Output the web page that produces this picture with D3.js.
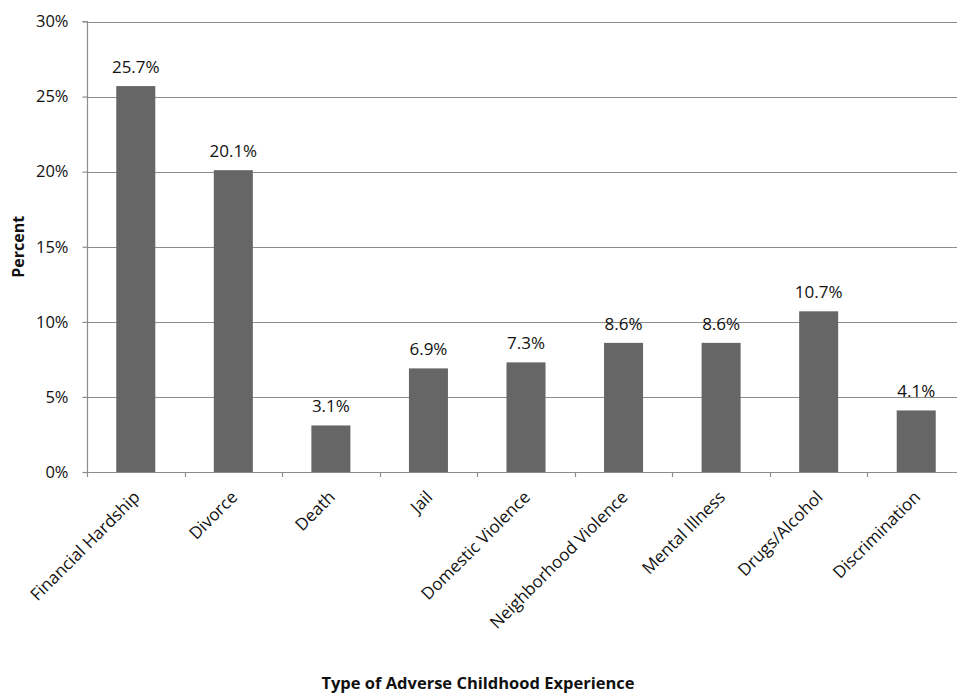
<!DOCTYPE html>
<html>
<head>
<meta charset="utf-8">
<script src="https://cdn.jsdelivr.net/npm/d3@7"></script>
<style>
  body { margin: 0; background: #fff; }
  svg { font-family: "Open Sans", "Liberation Sans", sans-serif; }
</style>
</head>
<body>
<div id="chart"></div>
<script>
const categories = ['Financial Hardship', 'Divorce', 'Death', 'Jail', 'Domestic Violence',
    'Neighborhood Violence', 'Mental Illness', 'Drugs/Alcohol', 'Discrimination'];
const percents = [25.7, 20.1, 3.1, 6.9, 7.3, 8.6, 8.6, 10.7, 4.1];
const yTicks = [0, 5, 10, 15, 20, 25, 30];

const width = 957, height = 696;
const margin = { left: 87, top: 21.5, bottom: 224 };
const plotRight = 965;

const svg = d3.select('#chart')
    .append('svg')
    .attr('width', width)
    .attr('height', height);

const x = d3.scaleBand()
    .domain(categories)
    .range([margin.left, plotRight])
    .paddingInner(0.6)
    .paddingOuter(0.3);

const y = d3.scaleLinear()
    .domain([0, 30])
    .range([height - margin.bottom, margin.top]);

// gridlines
svg.append('g')
    .selectAll('line')
    .data(yTicks.filter(d => d > 0))
    .enter()
    .append('line')
    .attr('x1', margin.left)
    .attr('x2', plotRight)
    .attr('y1', d => Math.round(y(d)) + 0.5)
    .attr('y2', d => Math.round(y(d)) + 0.5)
    .style('stroke', '#8c8c8c')
    .style('stroke-width', 1.2);

// bars
svg.append('g')
    .selectAll('rect')
    .data(categories)
    .enter()
    .append('rect')
    .attr('x', d => x(d))
    .attr('width', x.bandwidth())
    .attr('y', (d, i) => y(percents[i]))
    .attr('height', (d, i) => y(0) - y(percents[i]))
    .style('fill', '#666666');

// value labels
svg.append('g')
    .selectAll('text')
    .data(categories)
    .enter()
    .append('text')
    .attr('x', d => x(d) + x.bandwidth() / 2)
    .attr('y', (d, i) => y(percents[i]) - 13)
    .attr('text-anchor', 'middle')
    .style('font-size', '17px')
    .style('fill', '#111')
    .text((d, i) => percents[i].toFixed(1) + '%');

// y axis
const yAxis = d3.axisLeft(y)
    .tickValues(yTicks)
    .tickSize(5)
    .tickPadding(14)
    .tickFormat(d => d + '%');

const yG = svg.append('g')
    .attr('transform', `translate(${margin.left + 0.5},0)`)
    .call(yAxis);
yG.selectAll('line, path').style('stroke', '#8c8c8c').style('stroke-width', 1.2);
yG.select('.domain').attr('d', `M-5,${y(30)}H0V${y(0)}`);
yG.selectAll('text').style('font-size', '16.5px').style('fill', '#111')
    .style('font-family', '"Open Sans", sans-serif');

// x axis: ticks at band boundaries
const step = x.step();
const boundaries = d3.range(0, categories.length + 1).map(i => margin.left + i * step);
svg.append('line')
    .attr('x1', margin.left)
    .attr('x2', plotRight)
    .attr('y1', y(0) + 0.5)
    .attr('y2', y(0) + 0.5)
    .style('stroke', '#8c8c8c')
    .style('stroke-width', 1.2);
svg.append('g')
    .selectAll('line')
    .data(boundaries)
    .enter()
    .append('line')
    .attr('x1', d => Math.round(d) + 0.5)
    .attr('x2', d => Math.round(d) + 0.5)
    .attr('y1', y(0))
    .attr('y2', y(0) + 5)
    .style('stroke', '#8c8c8c')
    .style('stroke-width', 1.2);

// category labels
svg.append('g')
    .selectAll('text')
    .data(categories)
    .enter()
    .append('text')
    .attr('transform', d => `translate(${x(d) + x.bandwidth() / 2 + 1},${y(0) + 22}) rotate(-45)`)
    .attr('text-anchor', 'end')
    .attr('dy', '0.35em')
    .style('font-size', '17px')
    .style('fill', '#111')
    .text(d => d);

// axis titles
svg.append('text')
    .attr('transform', `translate(24,${(y(0) + y(30)) / 2}) rotate(-90)`)
    .attr('text-anchor', 'middle')
    .style('font-size', '16px')
    .style('font-weight', 'bold')
    .style('fill', '#111')
    .text('Percent');

svg.append('text')
    .attr('x', 478)
    .attr('y', 689)
    .attr('text-anchor', 'middle')
    .style('font-size', '16.5px')
    .style('font-weight', 'bold')
    .style('fill', '#111')
    .text('Type of Adverse Childhood Experience');
</script>
</body>
</html>
